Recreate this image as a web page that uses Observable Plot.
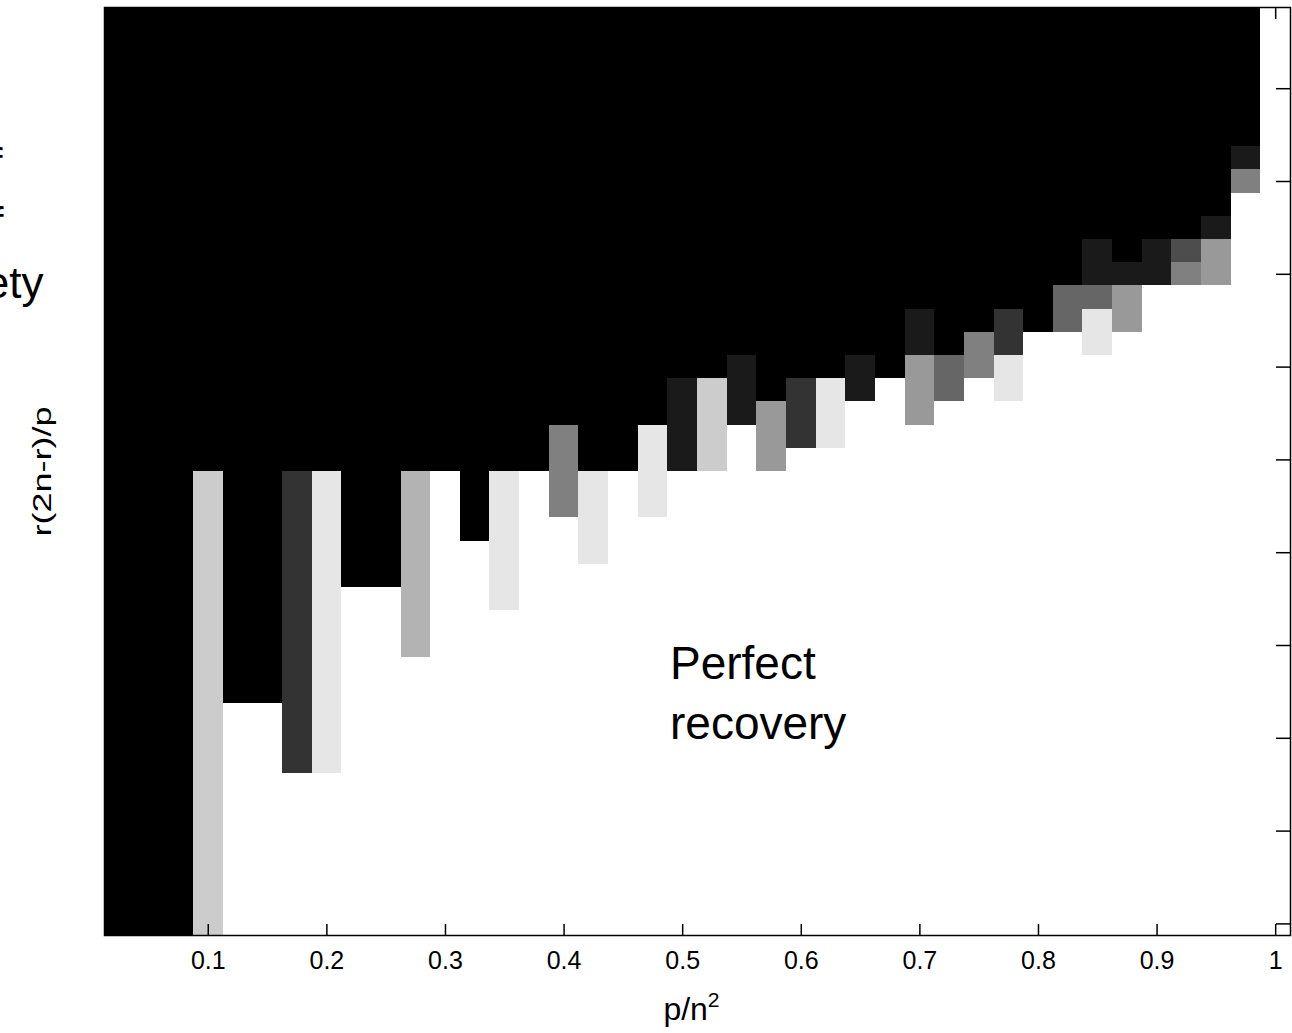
<!DOCTYPE html>
<html>
<head>
<meta charset="utf-8">
<script src="https://cdn.jsdelivr.net/npm/d3@7"></script>
<script src="https://cdn.jsdelivr.net/npm/@observablehq/plot@0.6"></script>
<style>
  html, body { margin: 0; padding: 0; background: #fff; }
  #chart { width: 1292px; height: 1033px; overflow: hidden; }
</style>
</head>
<body>
<div id="chart"></div>
<script>
// Columns: sampling ratio p/n^2
const pOverN2 = [0.025, 0.05, 0.075, 0.1, 0.125, 0.15, 0.175, 0.2, 0.225, 0.25,
  0.275, 0.3, 0.325, 0.35, 0.375, 0.4, 0.425, 0.45, 0.475, 0.5,
  0.525, 0.55, 0.575, 0.6, 0.625, 0.65, 0.675, 0.7, 0.725, 0.75,
  0.775, 0.8, 0.825, 0.85, 0.875, 0.9, 0.925, 0.95, 0.975, 1.0];
// Rows: degrees-of-freedom ratio r(2n-r)/p (axis reversed: small values on top)
const dofRatio = [0.025, 0.05, 0.075, 0.1, 0.125, 0.15, 0.175, 0.2, 0.225, 0.25,
  0.275, 0.3, 0.325, 0.35, 0.375, 0.4, 0.425, 0.45, 0.475, 0.5,
  0.525, 0.55, 0.575, 0.6, 0.625, 0.65, 0.675, 0.7, 0.725, 0.75,
  0.775, 0.8, 0.825, 0.85, 0.875, 0.9, 0.925, 0.95, 0.975, 1.0];
// Recovery rate per column, run-length encoded from the top row down: [rows, rate]
const recoveryRuns = [
  [[40, 0]],
  [[40, 0]],
  [[40, 0]],
  [[20, 0], [20, 0.8]],
  [[30, 0], [10, 1]],
  [[30, 0], [10, 1]],
  [[20, 0], [13, 0.2], [7, 1]],
  [[20, 0], [13, 0.9], [7, 1]],
  [[25, 0], [15, 1]],
  [[25, 0], [15, 1]],
  [[20, 0], [8, 0.7], [12, 1]],
  [[20, 0], [20, 1]],
  [[23, 0], [17, 1]],
  [[20, 0], [6, 0.9], [14, 1]],
  [[20, 0], [20, 1]],
  [[18, 0], [4, 0.5], [18, 1]],
  [[20, 0], [4, 0.9], [16, 1]],
  [[20, 0], [20, 1]],
  [[18, 0], [4, 0.9], [18, 1]],
  [[16, 0], [4, 0.1], [20, 1]],
  [[16, 0], [4, 0.8], [20, 1]],
  [[15, 0], [3, 0.1], [22, 1]],
  [[17, 0], [3, 0.6], [20, 1]],
  [[16, 0], [3, 0.2], [21, 1]],
  [[16, 0], [3, 0.9], [21, 1]],
  [[15, 0], [2, 0.1], [23, 1]],
  [[16, 0], [24, 1]],
  [[13, 0], [2, 0.1], [3, 0.6], [22, 1]],
  [[15, 0], [2, 0.4], [23, 1]],
  [[14, 0], [2, 0.5], [24, 1]],
  [[13, 0], [2, 0.2], [2, 0.9], [23, 1]],
  [[14, 0], [26, 1]],
  [[12, 0], [2, 0.4], [26, 1]],
  [[10, 0], [2, 0.1], [1, 0.4], [2, 0.9], [25, 1]],
  [[11, 0], [1, 0.1], [2, 0.6], [26, 1]],
  [[10, 0], [2, 0.1], [28, 1]],
  [[10, 0], [1, 0.3], [1, 0.5], [28, 1]],
  [[9, 0], [1, 0.1], [2, 0.6], [28, 1]],
  [[6, 0], [1, 0.1], [1, 0.5], [32, 1]],
  [[40, 1]]
];
const xTickValues = [0.1, 0.2, 0.3, 0.4, 0.5, 0.6, 0.7, 0.8, 0.9, 1];
const yTickValues = [0.1, 0.2, 0.3, 0.4, 0.5, 0.6, 0.7, 0.8, 0.9, 1];
const xLabelBase = "p/n";
const xLabelSup = "2";
const yLabel = "r(2n-r)/p";
const annotationLines = ["Perfect", "recovery"];
const sideNoteLines = ["Degrees of", "freedom of", "variety"];

// Expand runs into cells
const cells = [];
recoveryRuns.forEach((runs, i) => {
  let row = 0;
  for (const [count, rate] of runs) {
    for (let r = 0; r < count; r++, row++) {
      cells.push({p: pOverN2[i], dof: dofRatio[row], rate});
    }
  }
});
const hx = (pOverN2[1] - pOverN2[0]) / 2;
const hy = (dofRatio[1] - dofRatio[0]) / 2;

const font = "'Liberation Sans', Arial, Helvetica, sans-serif";
const xLabel = xLabelBase + xLabelSup;

const chart = Plot.plot({
  width: 1292,
  height: 1033,
  marginLeft: 104,
  marginRight: 2,
  marginTop: 7,
  marginBottom: 98,
  style: {fontFamily: font, background: "#fff", color: "#000"},
  x: {domain: [pOverN2[0] - hx, pOverN2[pOverN2.length - 1] + hx]},
  y: {domain: [dofRatio[0] - hy, dofRatio[dofRatio.length - 1] + hy], reverse: true},
  color: {type: "linear", domain: [0, 1], range: ["#000", "#fff"], interpolate: "rgb"},
  marks: [
    Plot.rect(cells, {
      x1: d => d.p - hx, x2: d => d.p + hx,
      y1: d => d.dof - hy, y2: d => d.dof + hy,
      fill: "rate", shapeRendering: "crispEdges"
    }),
    Plot.frame({stroke: "#000", strokeWidth: 1.5}),
    Plot.axisX(xTickValues, {anchor: "bottom", tickSize: -11, tickPadding: 27, fontSize: 25, strokeWidth: 1.5, label: null, tickFormat: d => String(d)}),
    Plot.axisX(xTickValues, {anchor: "top", tickSize: -11, strokeWidth: 1.5, label: null, tickFormat: () => ""}),
    Plot.axisY(yTickValues, {anchor: "right", tickSize: -15, strokeWidth: 1.5, label: null, tickFormat: () => ""}),
    Plot.axisY(yTickValues, {anchor: "left", tickSize: -15, strokeWidth: 1.5, label: null, tickFormat: () => ""}),
    Plot.text([annotationLines[0]], {x: 0.4893, y: 0.7201, text: d => d, textAnchor: "start", lineAnchor: "middle", fontSize: 46, fill: "#000"}),
    Plot.text([annotationLines[1]], {x: 0.4893, y: 0.7847, text: d => d, textAnchor: "start", lineAnchor: "middle", fontSize: 46, fill: "#000"}),
    Plot.text([xLabel], {frameAnchor: "bottom", dx: -6, dy: 74, text: d => d, lineAnchor: "middle", fontSize: 32, fill: "#000"}),
    Plot.text([yLabel], {frameAnchor: "left", dx: -62, dy: 65, rotate: -90, text: d => d, textAnchor: "start", lineAnchor: "middle", fontSize: 26, fill: "#000"}),
    Plot.text([sideNoteLines[0]], {frameAnchor: "top-left", dx: -102, dy: 157, text: d => d, textAnchor: "end", lineAnchor: "middle", fontSize: 44, fill: "#000"}),
    Plot.text([sideNoteLines[1]], {frameAnchor: "top-left", dx: -101, dy: 216, text: d => d, textAnchor: "end", lineAnchor: "middle", fontSize: 44, fill: "#000"}),
    Plot.text([sideNoteLines[2]], {frameAnchor: "top-left", dx: -61, dy: 276, text: d => d, textAnchor: "end", lineAnchor: "middle", fontSize: 44, fill: "#000"})
  ]
});
chart.style.overflow = "visible";
const svgSel = d3.select(chart);
svgSel.selectAll("text").filter(function() { return this.textContent === yLabel; })
  .attr("textLength", 130).attr("lengthAdjust", "spacingAndGlyphs");
svgSel.selectAll("text").filter(function() { return this.textContent === xLabel; })
  .each(function() {
    const t = d3.select(this);
    t.text(null);
    t.append("tspan").text(xLabelBase);
    t.append("tspan").attr("dy", "-0.6em").attr("font-size", "0.66em").text(xLabelSup);
  });
document.getElementById("chart").appendChild(chart);
</script>
</body>
</html>
